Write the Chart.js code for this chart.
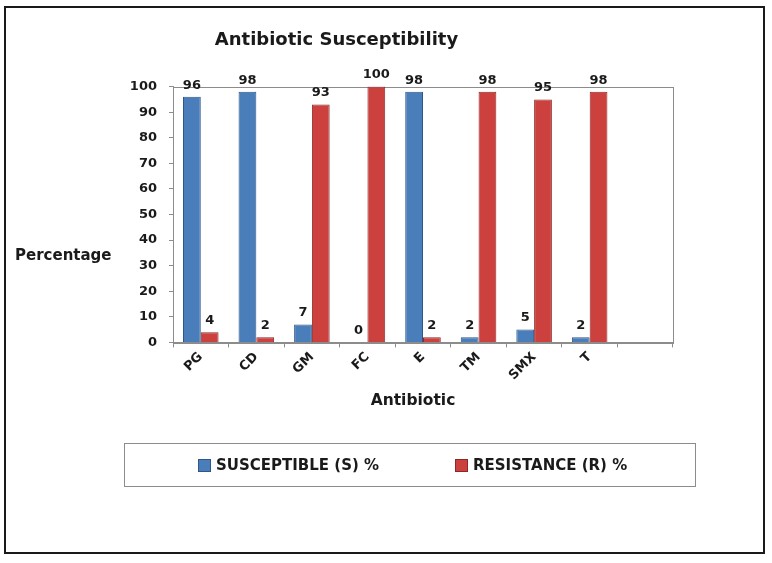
<!DOCTYPE html>
<html lang="en">
<head>
<meta charset="UTF-8">
<title>Antibiotic Susceptibility</title>
<script src="https://cdn.jsdelivr.net/npm/chart.js@4.4.1/dist/chart.umd.min.js"></script>
<style>
  html, body { margin: 0; padding: 0; background: #fff; }
  #wrap { position: relative; width: 772px; height: 563px; }
  #frame { position: absolute; left: 4px; top: 6px; width: 757px; height: 544px; border: 2.5px solid #1a1a1a; }
  #chart { position: absolute; left: 0; top: 0; }
</style>
</head>
<body>
<div id="wrap">
  <div id="frame"></div>
  <canvas id="chart" width="772" height="563"></canvas>
</div>
<script>
// Data (last slot is the empty category at the right)
const antibiotics = ['PG', 'CD', 'GM', 'FC', 'E', 'TM', 'SMX', 'T', ''];
const susceptible = [96, 98, 7, 0, 98, 2, 5, 2, null];
const resistance = [4, 2, 93, 100, 2, 98, 95, 98, null];
const seriesNames = ['SUSCEPTIBLE (S) %', 'RESISTANCE (R) %'];

const FONT = '"DejaVu Sans", sans-serif';
const AXIS = '#8c8c8c';
const INK = '#1a1a1a';

Chart.defaults.font.family = FONT;
Chart.defaults.color = INK;

// value labels above each bar
const valueLabels = {
    id: 'valueLabels',
    afterDatasetsDraw(chart) {
        const c = chart.ctx;
        c.save();
        c.font = 'bold 13px ' + FONT;
        c.fillStyle = INK;
        c.textAlign = 'center';
        c.textBaseline = 'bottom';
        chart.data.datasets.forEach((ds, i) => {
            chart.getDatasetMeta(i).data.forEach((bar, j) => {
                const v = ds.data[j];
                if (v === null) return;
                c.fillText(String(v), bar.x, bar.y - 5);
            });
        });
        c.restore();
    }
};

// plot frame, axis titles and boxed legend
const decorations = {
    id: 'decorations',
    beforeDatasetsDraw(chart) {
        const a = chart.chartArea;
        const c = chart.ctx;
        c.save();
        c.strokeStyle = AXIS;
        c.lineWidth = 1;
        c.strokeRect(Math.round(a.left) + 0.5, Math.round(a.top) + 0.5, Math.round(a.right - a.left), Math.round(a.bottom - a.top));
        c.restore();
    },
    afterDraw(chart) {
        const c = chart.ctx;
        c.save();
        c.font = 'bold 15px ' + FONT;
        c.fillStyle = INK;
        c.textAlign = 'left';
        c.textBaseline = 'middle';
        c.fillText('Percentage', 15, 256);

        c.font = 'bold 15.5px ' + FONT;
        c.textAlign = 'center';
        c.fillText('Antibiotic', 413, 401);

        c.font = 'bold 15px ' + FONT;
        c.textAlign = 'left';
        c.strokeStyle = AXIS;
        c.lineWidth = 1;
        c.strokeRect(124.5, 443.5, 571, 43);
        const xs = [198, 455];
        chart.data.datasets.forEach((ds, i) => {
            c.fillStyle = ds.backgroundColor;
            c.fillRect(xs[i], 459, 13, 13);
            c.strokeStyle = ds.borderColor;
            c.strokeRect(xs[i] + 0.5, 459.5, 12, 12);
            c.fillStyle = INK;
            c.fillText(ds.label, xs[i] + 18, 466);
        });
        c.restore();
    }
};

new Chart(document.getElementById('chart'), {
    type: 'bar',
    data: {
        labels: antibiotics,
        datasets: [
            {
                label: seriesNames[0],
                data: susceptible,
                backgroundColor: '#4a7ebb',
                borderColor: '#2f5686',
                borderWidth: 1
            },
            {
                label: seriesNames[1],
                data: resistance,
                backgroundColor: '#cc403e',
                borderColor: '#8a2a28',
                borderWidth: 1
            }
        ]
    },
    options: {
        responsive: false,
        animation: false,
        layout: { padding: { top: 0, left: 0, right: 99, bottom: 152 } },
        datasets: { bar: { categoryPercentage: 0.64, barPercentage: 1.0 } },
        plugins: {
            legend: { display: false },
            tooltip: { enabled: false },
            title: {
                display: true,
                text: 'Antibiotic Susceptibility',
                color: INK,
                font: { family: FONT, size: 18, weight: 'bold' },
                padding: { top: 30, bottom: 35 }
            }
        },
        scales: {
            x: {
                afterFit(scale) { scale.height = 68.6; },
                grid: { drawOnChartArea: false, color: AXIS, tickLength: 5, offset: true },
                border: { color: AXIS },
                ticks: {
                    minRotation: 45, maxRotation: 45, autoSkip: false,
                    color: INK, padding: 2,
                    font: { size: 13, weight: 'bold' }
                }
            },
            y: {
                min: 0,
                max: 100,
                afterFit(scale) { scale.width = 173; },
                grid: { drawOnChartArea: false, color: AXIS, tickLength: 4 },
                border: { color: AXIS },
                ticks: {
                    stepSize: 10,
                    color: INK,
                    padding: 12,
                    font: { size: 13, weight: 'bold' }
                }
            }
        }
    },
    plugins: [valueLabels, decorations]
});
</script>
</body>
</html>
